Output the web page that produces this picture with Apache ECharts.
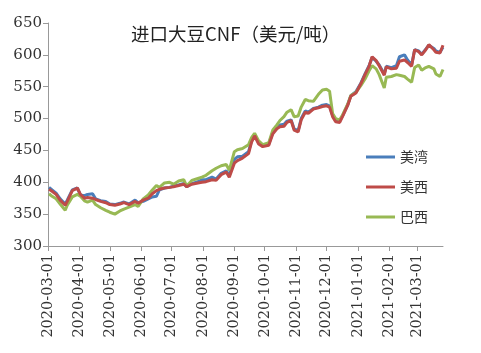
<!DOCTYPE html>
<html>
<head>
<meta charset="utf-8">
<script src="https://cdn.jsdelivr.net/npm/echarts@6/dist/echarts.min.js"></script>
<style>
  html, body { margin: 0; padding: 0; background: #fff; }
  #chart { width: 481px; height: 353px; }
</style>
</head>
<body>
<div id="chart"></div>
<script>
// dates of the sampled points
const dates = [
  '2020-03-02', '2020-03-05', '2020-03-09', '2020-03-13', '2020-03-18', '2020-03-20', '2020-03-25', '2020-03-30',
  '2020-04-02', '2020-04-06', '2020-04-09', '2020-04-14', '2020-04-17', '2020-04-22', '2020-04-27',
  '2020-05-01', '2020-05-06', '2020-05-11', '2020-05-15', '2020-05-20', '2020-05-26', '2020-05-29',
  '2020-06-03', '2020-06-08', '2020-06-12', '2020-06-16', '2020-06-19', '2020-06-24', '2020-06-29',
  '2020-07-03', '2020-07-08', '2020-07-13', '2020-07-16', '2020-07-21', '2020-07-27', '2020-07-31',
  '2020-08-04', '2020-08-10', '2020-08-14', '2020-08-19', '2020-08-24', '2020-08-27',
  '2020-09-01', '2020-09-04', '2020-09-09', '2020-09-15', '2020-09-18', '2020-09-21', '2020-09-25', '2020-09-29',
  '2020-10-05', '2020-10-09', '2020-10-13', '2020-10-16', '2020-10-20', '2020-10-23', '2020-10-27', '2020-10-30',
  '2020-11-03', '2020-11-06', '2020-11-10', '2020-11-13', '2020-11-18', '2020-11-23', '2020-11-27',
  '2020-12-01', '2020-12-04', '2020-12-07', '2020-12-10', '2020-12-14', '2020-12-17', '2020-12-22', '2020-12-25', '2020-12-30',
  '2021-01-04', '2021-01-08', '2021-01-12', '2021-01-15', '2021-01-19', '2021-01-22', '2021-01-27', '2021-01-29',
  '2021-02-03', '2021-02-08', '2021-02-11', '2021-02-16', '2021-02-19', '2021-02-23', '2021-02-26',
  '2021-03-02', '2021-03-05', '2021-03-09', '2021-03-12', '2021-03-17', '2021-03-19', '2021-03-23', '2021-03-26'
]

const usGulf = [
  392, 388, 383, 374, 366, 372, 388, 391,
  380, 379, 381, 382, 374, 371, 370,
  366, 365, 367, 369, 366, 372, 368,
  370, 374, 377, 378, 388, 391, 392,
  394, 396, 398, 393, 398, 401, 404,
  404, 408, 405, 414, 418, 411,
  436, 440, 441, 448, 465, 474, 462, 458,
  460, 478, 486, 490, 491, 496, 498, 484,
  481, 500, 512, 510, 516, 518, 521,
  522, 520, 505, 498, 496, 505, 522, 536, 542,
  556, 570, 583, 596, 590, 584, 570, 582,
  580, 583, 597, 600, 592, 584, 608,
  606, 601, 609, 615, 610, 606, 604, 612
]

const usWest = [
  389, 386, 381, 372, 364, 370, 387, 391,
  381, 375, 376, 375, 373, 370, 368,
  365, 364, 366, 368, 365, 370, 367,
  372, 375, 382, 387, 389, 391, 392,
  393, 395, 397, 393, 397, 399, 400,
  401, 404, 403, 412, 416, 408,
  430, 434, 438, 445, 463, 473, 460, 456,
  458, 476, 484, 487, 488, 494, 497, 482,
  479, 498, 510, 508, 515, 517, 519,
  520, 518, 503, 495, 494, 504, 521, 535, 540,
  555, 569, 582, 597, 591, 583, 568, 581,
  578, 579, 590, 592, 588, 582, 608,
  605, 600, 608, 616, 608, 604, 603, 615
]

const brazil = [
  382, 378, 374, 366, 356, 364, 377, 381,
  378, 371, 369, 372, 365, 360, 356,
  353, 350, 355, 358, 361, 365, 362,
  374, 380, 388, 395, 392, 399, 400,
  397, 402, 404, 394, 403, 406, 408,
  411, 418, 422, 426, 428, 419,
  448, 451, 453, 459, 470, 477, 465, 459,
  462, 482, 490, 497, 503, 510, 514, 503,
  504, 518, 530, 528, 527, 538, 545,
  546, 543, 508, 500, 498, 506, 523, 536, 541,
  552, 562, 575, 583, 578, 569, 548, 565,
  566, 569, 568, 566, 562, 557, 580,
  584, 576, 580, 582, 578, 570, 566, 577
]

const names = ['美湾', '美西', '巴西']
const colors = ['#4a7ebb', '#be4b48', '#98b954']

const chart = echarts.init(document.getElementById('chart'), null, { renderer: 'canvas' })

const numFont = 'DejaVu Serif'
const cjkFont = '"Noto Sans CJK SC", sans-serif'

chart.setOption({
  animation: false,
  color: colors,
  title: {
    text: '进口大豆CNF（美元/吨）',
    left: 126,
    top: 20,
    textStyle: { fontFamily: cjkFont, fontSize: 18.5, fontWeight: 'normal', color: '#222' }
  },
  legend: {
    orient: 'vertical',
    left: 361,
    top: 145,
    icon: 'rect',
    itemWidth: 29,
    itemHeight: 3,
    itemGap: 16,
    data: names,
    textStyle: { fontFamily: cjkFont, fontSize: 14, color: '#333', lineHeight: 14 }
  },
  grid: { left: 48, right: 38, top: 23, bottom: 107 },
  xAxis: {
    type: 'time',
    min: '2020-03-01',
    max: '2021-03-26',
    minInterval: 28 * 24 * 3600 * 1000,
    maxInterval: 31 * 24 * 3600 * 1000,
    axisLine: { lineStyle: { color: '#999' } },
    axisTick: { show: true, length: 5, lineStyle: { color: '#999' } },
    splitLine: { show: false },
    axisLabel: {
      rotate: 90,
      margin: 8,
      color: '#333',
      fontFamily: numFont,
      fontSize: 14.5,
      showMaxLabel: false,
      formatter: v => echarts.time.format(v, '{yyyy}-{MM}-{dd}', false)
    }
  },
  yAxis: {
    type: 'value',
    min: 300,
    max: 650,
    interval: 50,
    axisLine: { show: true, lineStyle: { color: '#999' } },
    axisTick: { show: true, length: 5, lineStyle: { color: '#999' } },
    splitLine: { show: false },
    axisLabel: { color: '#333', fontFamily: numFont, fontSize: 15, margin: 6 }
  },
  series: names.map((name, i) => ({
    name,
    type: 'line',
    symbol: 'none',
    data: dates.map((d, j) => [d, [usGulf, usWest, brazil][i][j]]),
    lineStyle: { width: 3, color: colors[i] },
    z: i === 1 ? 3 : 2
  }))
})
</script>
</body>
</html>
